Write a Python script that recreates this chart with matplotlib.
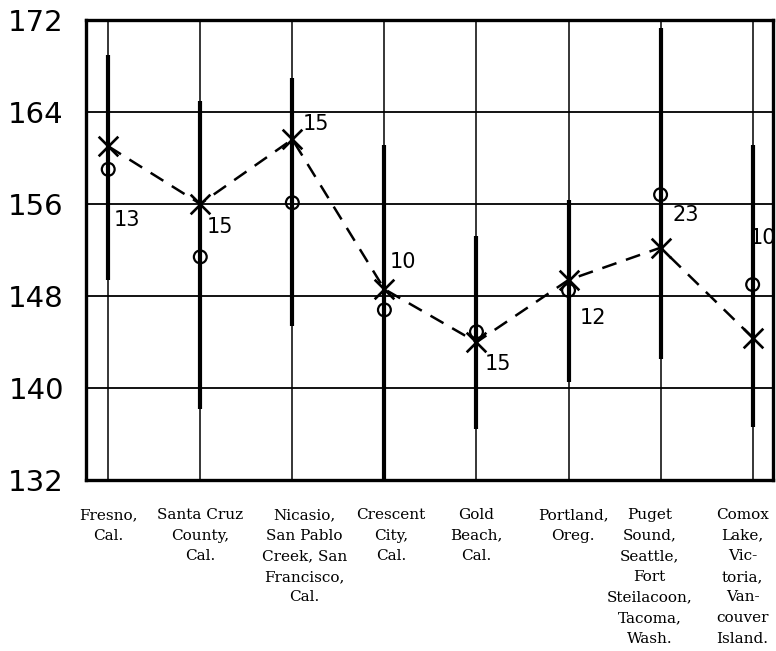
import numpy as np
import matplotlib
matplotlib.use("Agg")
import matplotlib.pyplot as plt
import matplotlib.transforms as mtransforms

# localities along the coast, south to north
places = [
    "Fresno,\nCal.",
    "Santa Cruz\nCounty,\nCal.",
    "Nicasio,\nSan Pablo\nCreek, San\nFrancisco,\nCal.",
    "Crescent\nCity,\nCal.",
    "Gold\nBeach,\nCal.",
    "Portland,\nOreg.",
    "Puget\nSound,\nSeattle,\nFort\nSteilacoon,\nTacoma,\nWash.",
    "Comox\nLake,\nVic-\ntoria,\nVan-\ncouver\nIsland.",
]
range_high = [168.9, 164.9, 166.9, 161.1, 153.2, 156.3, 171.3, 161.1]
range_low = [149.4, 138.2, 145.4, 132.0, 136.5, 140.5, 142.5, 136.6]
means = [161.0, 156.0, 161.6, 148.6, 144.0, 149.4, 152.2, 144.4]
circles = [159.0, 151.4, 156.1, 146.8, 144.9, 148.5, 156.8, 149.0]
counts = [13, 15, 15, 10, 15, 12, 23, 10]
yticks = [132, 140, 148, 156, 164, 172]

# where each count is written, offset in points from the cross (or circle)
count_anchor = ["circle", "mean", "mean", "mean", "mean", "mean", "circle", "circle"]
count_offset = [(13.7, -36.7), (14.4, -16.6), (17.3, 10.8), (13, 19.4),
                (15.1, -15.8), (17.3, -27.4), (18, -14.4), (7.2, 33.8)]
label_shift = [0.0, 0.0, 0.13, 0.07, 0.0, 0.05, -0.12, -0.11]

fig = plt.figure(figsize=(7.76, 6.51), dpi=100)
ax = fig.add_axes([0.111, 0.262, 0.885, 0.708])

x = np.arange(len(places))
ax.set_xlim(-0.24, 7.22)
ax.set_ylim(132, 172)

# grid: horizontal lines and one vertical line per place
for t in yticks[1:-1]:
    ax.axhline(t, color="black", lw=1.3, zorder=1)
for xi in x:
    ax.axvline(xi, color="black", lw=1.1, zorder=1)

# ranges
ax.vlines(x, range_low, range_high, color="black", lw=3.0, zorder=2)

# means joined by dashed line
ax.plot(x, means, color="black", lw=1.8, dashes=(6, 4), zorder=3)
ax.scatter(x, means, marker="x", s=200, color="black", linewidths=1.9, zorder=4)
ax.scatter(x, circles, marker="o", s=85, facecolor="none", edgecolor="black",
           linewidths=1.6, zorder=4)

for i, n in enumerate(counts):
    yv = means[i] if count_anchor[i] == "mean" else circles[i]
    ax.annotate(str(n), (x[i], yv), xytext=count_offset[i], textcoords="offset points",
                fontsize=15, ha="center", va="center", family="DejaVu Sans",
                annotation_clip=False)

for s in ax.spines.values():
    s.set_linewidth(2.4)
    s.set_color("black")

ax.set_yticks(yticks)
ax.set_yticklabels([str(t) for t in yticks], fontsize=21, family="DejaVu Sans")
ax.tick_params(axis="y", length=0, pad=16)
ax.set_xticks([])

trans = mtransforms.blended_transform_factory(ax.transData, ax.transAxes)
for i, name in enumerate(places):
    ax.text(x[i] + label_shift[i], -0.06, name, transform=trans, ha="center", va="top",
            multialignment="center", fontsize=11, family="DejaVu Serif",
            linespacing=1.6)

fig.savefig("out.png", dpi=100)
